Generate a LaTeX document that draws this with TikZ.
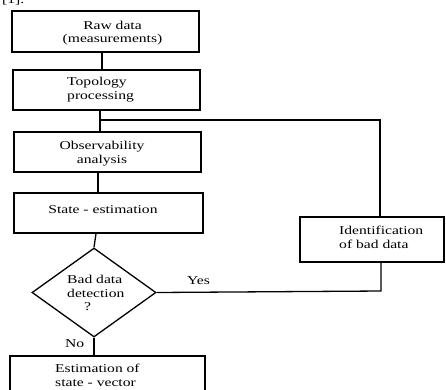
\documentclass[tikz,border=0pt]{standalone}
\usepackage{fontspec}
\setmainfont{Liberation Serif}[FakeStretch=1.3]
\usetikzlibrary{shapes.geometric}
\begin{document}
\begin{tikzpicture}[x=1pt,y=-1pt,
  box/.style={draw=black,line width=1.3pt,rectangle,inner sep=0pt},
  dec/.style={draw=black,line width=1.3pt,diamond,inner sep=0pt},
  txt/.style={inner sep=0pt,font=\fontsize{12}{13.5}\selectfont},
  conn/.style={line width=1.3pt}]
\useasboundingbox (0,0) rectangle (446,389);
% boxes
\node[box,minimum width=187pt,minimum height=41pt] (raw) at (105.5,31.5) {};
\node[box,minimum width=187pt,minimum height=40pt] (topo) at (106.5,90) {};
\node[box,minimum width=187pt,minimum height=40pt] (obs) at (107.5,152) {};
\node[box,minimum width=189pt,minimum height=40pt] (est) at (108.5,213) {};
\node[dec,minimum width=124pt,minimum height=89pt] (bad) at (94,292.5) {};
\node[box,minimum width=144pt,minimum height=45pt] (ident) at (372,239.5) {};
\node[box,minimum width=195pt,minimum height=46pt] (fin) at (107.5,379) {};
% texts
\node[txt,anchor=base west] (ref) at (2,3.5) {[1].};
\node[txt,align=center] (trawt) at (112.5,33) {Raw data\\(measurements)};
\node[txt,align=left,anchor=west] (ttopo) at (67,89.5) {Topology\\processing};
\node[txt,align=center] (tobs) at (102,153.5) {Observability\\analysis};
\node[txt,anchor=base] (test) at (103,213) {State - estimation};
\node[txt,align=left,anchor=west] (tbad) at (67,293) {Bad data\\detection\\\hspace{17pt}?};
\node[txt,align=left,anchor=west] (tident) at (339,237.5) {Identification\\of bad data};
\node[txt,align=left,anchor=west] (tfin) at (55,375.5) {Estimation of\\state - vector};
\node[txt,anchor=base west] (yes) at (187,284) {Yes};
\node[txt,anchor=base west] (no) at (65,347) {No};
% connectors
\coordinate (br) at (100,120);
\coordinate (brr) at (380,120);
\coordinate (yr) at (381,291);
\draw[conn] ([xshift=-3.5pt]raw.south) -- ([xshift=-4.5pt]topo.north);
\draw[conn] ([xshift=-6.5pt]topo.south) -- ([xshift=-7.5pt]obs.north);
\draw[conn] (br) -- (brr) -- (brr |- ident.north);
\draw[conn] ([xshift=-9.5pt]obs.south) -- ([xshift=-10.5pt]est.north);
\draw[conn] ([xshift=-12.5pt]est.south) -- (bad.north);
\draw[conn] (bad.east) -- (yr) -- (yr |- ident.south);
\draw[conn] (bad.south) -- (bad.south |- fin.north);
\end{tikzpicture}
\end{document}
